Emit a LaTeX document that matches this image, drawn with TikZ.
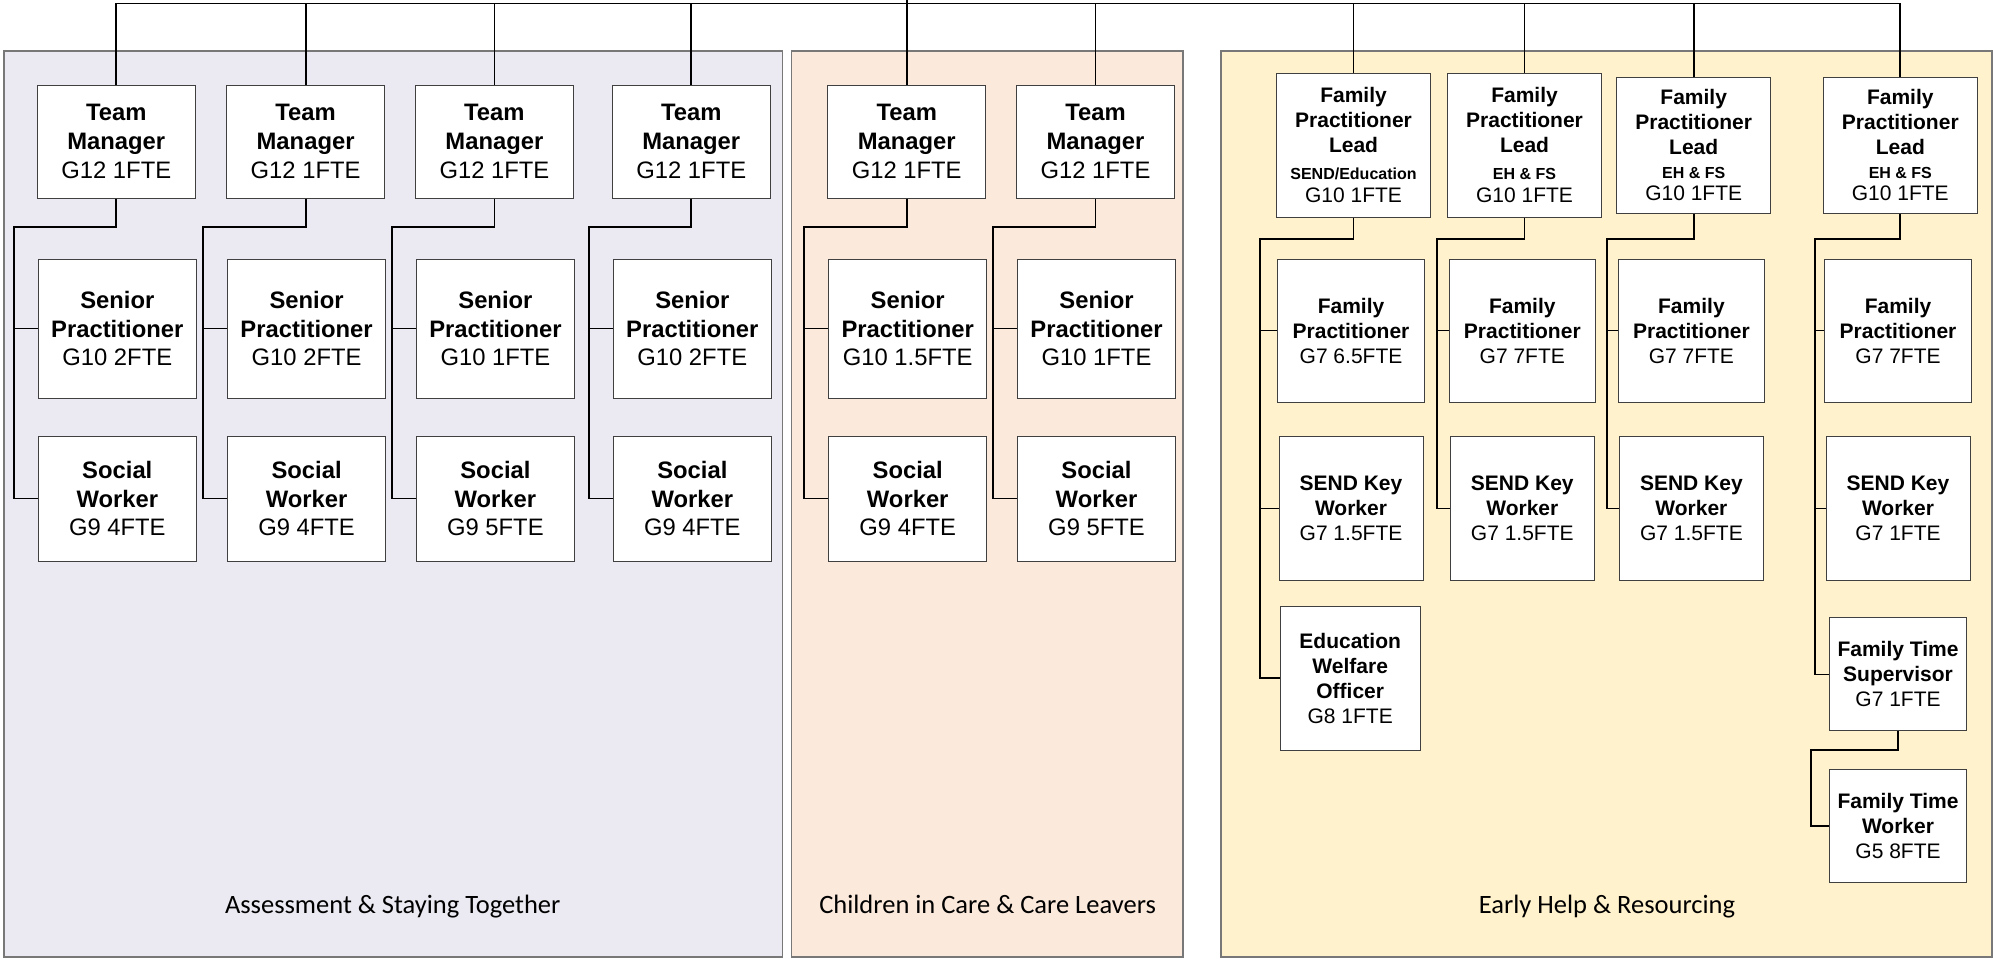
\documentclass[tikz,border=0pt]{standalone}
\usepackage{fontspec}
\setmainfont{Liberation Sans}
\newfontfamily\panelfont{Carlito}
\definecolor{astfill}{RGB}{235,233,241}
\definecolor{cicfill}{RGB}{251,233,220}
\definecolor{ehrfill}{RGB}{255,242,204}
\definecolor{boxline}{RGB}{64,64,64}
\definecolor{panelline}{RGB}{120,120,120}
\tikzset{
  post/.style={draw=boxline,fill=white,line width=1pt,align=center,inner sep=0pt},
  bigtxt/.style={font=\fontsize{23.8}{28.6}\selectfont},
  midtxt/.style={font=\fontsize{21}{25}\selectfont},
  link/.style={line width=1.8pt},
  panel/.style={draw=panelline,line width=1.5pt},
  lbl/.style={font=\panelfont\fontsize{26.5}{30}\selectfont,anchor=base}
}
\newcommand{\subtxt}[1]{{\fontsize{16}{19}\selectfont\bfseries #1}}
\begin{document}
\begin{tikzpicture}[x=1pt,y=-1pt]
\useasboundingbox (0,0) rectangle (1993,958);
%panels
\draw[panel,fill=astfill](4,51) rectangle (782.5,957);
\draw[panel,fill=cicfill](791.5,51) rectangle (1183,957);
\draw[panel,fill=ehrfill](1221,51) rectangle (1992,957);
\node[lbl] (lab1) at (392.7,913) {Assessment \& Staying Together};
\node[lbl] (lab2) at (987.6,913) {Children in Care \& Care Leavers};
\node[lbl] (lab3) at (1607,913) {Early Help \& Resourcing};
%teams
\foreach \i/\x/\sp/\sw in {1/116.3/2/4,2/305.6/2/4,3/494.4/1/5,4/691.3/2/4,5/906.7/1.5/4,6/1095.5/1/5}{
  \node[post,bigtxt,minimum width=158pt,minimum height=113pt] (tm\i) at (\x,141.5) {\textbf{Team}\\\textbf{Manager}\\G12 1FTE};
  \node[post,bigtxt,minimum width=158pt,minimum height=139pt] (sp\i) at (\x+1,328.5) {\textbf{Senior}\\\textbf{Practitioner}\\G10 \sp FTE};
  \node[post,bigtxt,minimum width=158pt,minimum height=125pt] (sw\i) at (\x+1,498.5) {\textbf{Social}\\\textbf{Worker}\\G9 \sw FTE};
  \coordinate (el\i) at (\x-102.5,227.3);
  \draw[link] (tm\i.south) |- (el\i) |- (sw\i.west);
  \draw[link] (sp\i.west) -- (sp\i.west -| el\i);
}
%early help
\node[post,midtxt,minimum width=154pt,minimum height=144pt] (fpl7) at (1353.5,145.3) {\textbf{Family}\\\textbf{Practitioner}\\\textbf{Lead}\\[2pt]\subtxt{SEND/Education}\\[-2pt]G10 1FTE};
\node[post,midtxt,minimum width=154pt,minimum height=144pt] (fpl8) at (1524.5,145.3) {\textbf{Family}\\\textbf{Practitioner}\\\textbf{Lead}\\[2pt]\subtxt{EH \& FS}\\[-2pt]G10 1FTE};
\node[post,midtxt,minimum width=154pt,minimum height=136pt] (fpl9) at (1693.7,145.3) {\textbf{Family}\\\textbf{Practitioner}\\\textbf{Lead}\\[-1pt]\subtxt{EH \& FS}\\[-3pt]G10 1FTE};
\node[post,midtxt,minimum width=154pt,minimum height=136pt] (fpl10) at (1900.3,145.3) {\textbf{Family}\\\textbf{Practitioner}\\\textbf{Lead}\\[-1pt]\subtxt{EH \& FS}\\[-3pt]G10 1FTE};
\foreach \i/\x/\ex/\fp/\kw in {7/1351/1259.7/6.5/1.5,8/1522.3/1436.7/7/1.5,9/1691.4/1606.7/7/1.5,10/1898/1814.6/7/1}{
  \node[post,midtxt,minimum width=146.6pt,minimum height=143pt] (fp\i) at (\x,330.5) {\textbf{Family}\\\textbf{Practitioner}\\G7 \fp FTE};
  \node[post,midtxt,minimum width=144pt,minimum height=144pt] (kw\i) at (\x,508.4) {\textbf{SEND Key}\\\textbf{Worker}\\G7 \kw FTE};
  \coordinate (el\i) at (\ex,239);
  \draw[link] (fp\i.west) -- (fp\i.west -| el\i);
}
\node[post,midtxt,minimum width=140pt,minimum height=144pt] (ewo) at (1350.2,678.3) {\textbf{Education}\\\textbf{Welfare}\\\textbf{Officer}\\G8 1FTE};
\node[post,midtxt,minimum width=136.6pt,minimum height=113pt] (fts) at (1898,674.4) {\textbf{Family Time}\\\textbf{Supervisor}\\G7 1FTE};
\node[post,midtxt,minimum width=136.6pt,minimum height=113pt] (ftw) at (1898,825.6) {\textbf{Family Time}\\\textbf{Worker}\\G5 8FTE};
\draw[link] (fpl7.south) |- (el7) |- (ewo.west);
\draw[link] (kw7.west) -- (kw7.west -| el7);
\draw[link] (fpl8.south) |- (el8) |- (kw8.west);
\draw[link] (fpl9.south) |- (el9) |- (kw9.west);
\draw[link] (fpl10.south) |- (el10) |- (fts.west);
\draw[link] (kw10.west) -- (kw10.west -| el10);
\coordinate (el11) at (1811,749.8);
\draw[link] (fts.south) |- (el11) |- (ftw.west);
%top
\coordinate (root) at (906.7,0);
\coordinate (bus) at (906.7,3.5);
\draw[link] (root) -- (tm5.north);
\draw[link] (tm1.north) |- (bus) -| (fpl10.north);
\foreach \n in {tm2,tm3,tm4,tm6,fpl7,fpl8,fpl9}{\draw[link] (\n.north) -- (\n.north |- bus);}
\end{tikzpicture}
\end{document}
